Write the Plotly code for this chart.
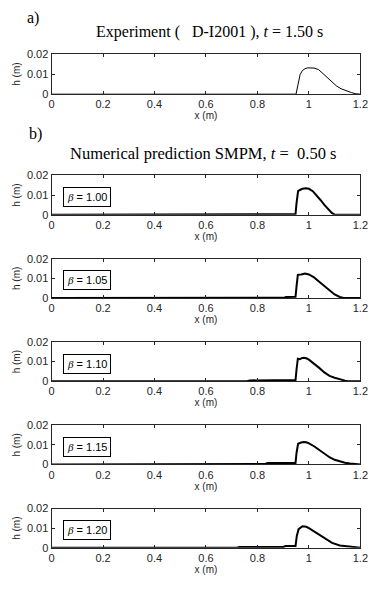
import plotly.graph_objects as go

W, H = 381, 590

# ---------------- data ----------------
exp_x = [0, 0.95, 0.958, 0.966, 0.975, 0.985, 0.995, 1.006, 1.02, 1.038, 1.055, 1.069,
         1.085, 1.107, 1.125, 1.145, 1.165, 1.182, 1.2]
exp_h = [0, 0, 0.005, 0.0098, 0.0118, 0.0127, 0.0131, 0.0132, 0.0130, 0.0122, 0.0102,
         0.0083, 0.0063, 0.0041, 0.0027, 0.0016, 0.0008, 0.0002, 0]

b100_x = [0, 0.855, 0.86, 0.948, 0.952, 0.958, 0.965, 0.975, 0.988, 1.0, 1.015, 1.03,
          1.045, 1.06, 1.075, 1.09, 1.1, 1.2]
b100_h = [0, 0, 0.0003, 0.0003, 0.0060, 0.0120, 0.0126, 0.0132, 0.0135, 0.0132, 0.0120,
          0.0100, 0.0075, 0.0050, 0.0027, 0.0008, 0, 0]

b105_x = [0, 0.50, 0.86, 0.905, 0.91, 0.948, 0.952, 0.957, 0.97, 0.985, 1.0, 1.02, 1.04,
          1.06, 1.08, 1.1, 1.12, 1.135, 1.2]
b105_h = [0, 0.0001, 0.0001, 0.0001, 0.0005, 0.0006, 0.006, 0.0118, 0.012, 0.0124, 0.012,
          0.0105, 0.0083, 0.006, 0.0038, 0.0018, 0.0005, 0, 0]

b110_x = [0, 0.76, 0.77, 0.94, 0.948, 0.952, 0.957, 0.965, 0.972, 0.98, 0.99, 1.0, 1.02,
          1.04, 1.06, 1.08, 1.1, 1.12, 1.14, 1.15, 1.2]
b110_h = [0, 0, 0.0004, 0.0004, 0.0006, 0.006, 0.0115, 0.0112, 0.0118, 0.012, 0.0117,
          0.011, 0.0091, 0.0068, 0.0045, 0.0027, 0.0018, 0.0009, 0.0003, 0, 0]

b115_x = [0, 0.48, 0.72, 0.83, 0.84, 0.948, 0.952, 0.958, 0.97, 0.98, 0.99, 1.0, 1.02,
          1.04, 1.06, 1.08, 1.1, 1.12, 1.14, 1.16, 1.18, 1.2]
b115_h = [0, 0.0001, 0.0002, 0.0003, 0.0007, 0.0008, 0.006, 0.0106, 0.0112, 0.0115, 0.0113,
          0.0108, 0.0093, 0.0073, 0.0053, 0.0037, 0.0024, 0.0015, 0.0009, 0.0005, 0.0002, 0]

b120_x = [0, 0.72, 0.73, 0.90, 0.91, 0.948, 0.953, 0.96, 0.975, 0.99, 1.0, 1.03, 1.06,
          1.09, 1.12, 1.15, 1.18, 1.19, 1.2]
b120_h = [0, 0, 0.0004, 0.0004, 0.0009, 0.0009, 0.006, 0.0095, 0.011, 0.0107, 0.0100,
          0.0075, 0.0048, 0.0025, 0.0012, 0.0008, 0.0003, 0, 0]

beta_labels = ["1.00", "1.05", "1.10", "1.15", "1.20"]
sim_x = [b100_x, b105_x, b110_x, b115_x, b120_x]
sim_h = [b100_h, b105_h, b110_h, b115_h, b120_h]

x_ticks = [0, 0.2, 0.4, 0.6, 0.8, 1.0, 1.2]
x_tick_text = ["0", "0.2", "0.4", "0.6", "0.8", "1", "1.2"]
y_ticks = [0, 0.01, 0.02]
y_tick_text = ["0", "0.01", "0.02"]

title_a = "Experiment (   D-I2001 ), <i>t</i> = 1.50 s"
title_b = "Numerical prediction SMPM, <i>t</i> =  0.50 s"

# ---------------- layout helpers ----------------
SANS = "Liberation Sans, Arial, sans-serif"
SERIF = "Liberation Serif, Times New Roman, serif"
AX = "#262626"

x_dom = [50 / W, 368 / W]
panels = [(49, 90)] + [(173 + 85 * i, 213 + 85 * i) for i in range(5)]


def ydom(top, bot):
    return [1 - bot / H, 1 - top / H]


fig = go.Figure()

all_x = [exp_x] + sim_x
all_h = [exp_h] + sim_h
for i in range(6):
    ax = "" if i == 0 else str(i + 1)
    fig.add_trace(go.Scatter(
        x=all_x[i], y=all_h[i], mode="lines",
        line=dict(color="black", width=1 if i == 0 else 2),
        xaxis="x" + ax, yaxis="y" + ax, showlegend=False, hoverinfo="skip"))

    common = dict(showline=True, linecolor=AX, linewidth=1, mirror="ticks",
                  ticks="inside", ticklen=3, tickcolor=AX, showgrid=False,
                  zeroline=False, tickfont=dict(family=SANS, size=11, color=AX))
    xa = dict(common, domain=x_dom, range=[0, 1.2], tickvals=x_ticks,
              ticktext=x_tick_text, anchor="y" + ax,
              title=dict(text="x (m)", font=dict(family=SANS, size=10, color=AX),
                         standoff=2))
    ya = dict(common, domain=ydom(*panels[i]), range=[0, 0.02], tickvals=y_ticks,
              ticktext=y_tick_text, anchor="x" + ax,
              title=dict(text="h (m)", font=dict(family=SANS, size=10, color=AX),
                         standoff=4))
    fig.layout["xaxis" + ax] = xa
    fig.layout["yaxis" + ax] = ya

txt = dict(xref="paper", yref="paper", showarrow=False, xanchor="center",
           yanchor="middle")
annotations = [
    dict(txt, text="a)", x=31 / W, y=1 - 12 / H,
         font=dict(family=SERIF, size=16, color="black")),
    dict(txt, text="b)", x=33 / W, y=1 - 131 / H,
         font=dict(family=SERIF, size=16, color="black")),
    dict(txt, text=title_a, x=213 / W, y=1 - 27 / H,
         font=dict(family=SERIF, size=16, color="black")),
    dict(txt, text=title_b, x=206 / W, y=1 - 151 / H,
         font=dict(family=SERIF, size=16.5, color="black")),
]
for i, b in enumerate(beta_labels):
    ax = str(i + 2)
    annotations.append(dict(
        text=f"<span style='font-family:Liberation Serif'><i>β</i></span> = {b}",
        x=0.136, y=0.009, xref="x" + ax, yref="y" + ax, showarrow=False,
        xanchor="center", yanchor="middle",
        font=dict(family=SANS, size=11, color="black"),
        bordercolor="black", borderwidth=1, borderpad=3, bgcolor="white"))

fig.update_layout(width=W, height=H, margin=dict(l=0, r=0, t=0, b=0),
                  paper_bgcolor="white", plot_bgcolor="white",
                  annotations=annotations)

fig.write_html("out.html", config={"displayModeBar": False},
               post_script="document.body.style.margin='0';"
                           "document.body.style.overflow='hidden';")
